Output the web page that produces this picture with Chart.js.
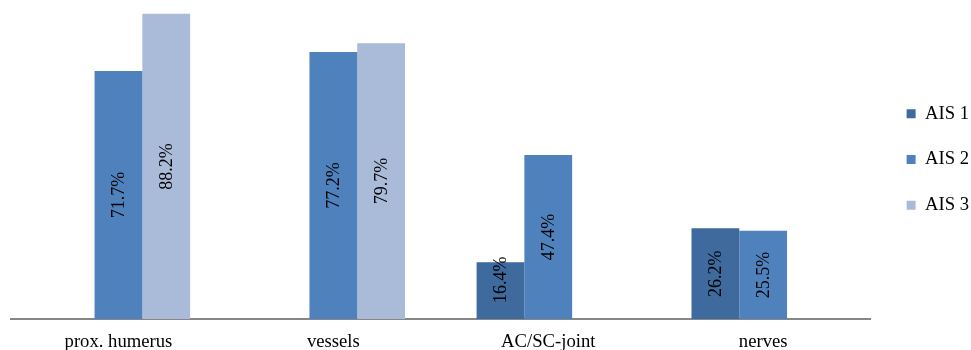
<!DOCTYPE html>
<html>
<head>
<meta charset="utf-8">
<script src="https://cdn.jsdelivr.net/npm/chart.js@4/dist/chart.umd.min.js"></script>
<style>
  html, body { margin: 0; padding: 0; background: #ffffff; }
  #wrap { width: 971px; height: 350px; }
</style>
</head>
<body>
<div id="wrap"><canvas id="c" width="971" height="350"></canvas></div>
<script>
// Injury sites and share of patients per AIS grade (percent)
const categories = ['prox. humerus', 'vessels', 'AC/SC-joint', 'nerves'];
const ais1 = [null, null, 16.4, 26.2];
const ais2 = [71.7, 77.2, 47.4, 25.5];
const ais3 = [88.2, 79.7, null, null];
const seriesNames = ['AIS 1', 'AIS 2', 'AIS 3'];
const seriesColors = ['#3e6a9d', '#4f81bd', '#aabad9'];

const FONT = 'Liberation Serif, Times New Roman, serif';

// Percent labels written vertically inside each bar
const barValueLabels = {
  id: 'barValueLabels',
  afterDatasetsDraw(chart) {
    const ctx = chart.ctx;
    ctx.save();
    ctx.font = '18px ' + FONT;
    ctx.fillStyle = '#000000';
    ctx.textAlign = 'center';
    ctx.textBaseline = 'middle';
    chart.data.datasets.forEach((ds, i) => {
      const meta = chart.getDatasetMeta(i);
      if (meta.hidden) return;
      meta.data.forEach((bar, j) => {
        const v = ds.data[j];
        if (v === null || v === undefined) return;
        const text = v.toFixed(1) + '%';
        const w = ctx.measureText(text).width;
        // keep short bars' labels clear of the baseline
        const cy = Math.min((bar.y + bar.base) / 2, bar.base - 16 - w / 2);
        ctx.save();
        ctx.translate(bar.x, cy);
        ctx.rotate(-Math.PI / 2);
        ctx.fillText(text, 0, 1);
        ctx.restore();
      });
    });
    ctx.restore();
  }
};

// Moves the legend column a little further right of the plot
const legendGap = {
  id: 'legendGap',
  afterLayout(chart) {
    const l = chart.legend;
    if (l) { l.left += 9; l.right += 9; }
  }
};

new Chart(document.getElementById('c'), {
  type: 'bar',
  data: {
    labels: categories,
    datasets: [
      { label: seriesNames[0], data: ais1, backgroundColor: seriesColors[0] },
      { label: seriesNames[1], data: ais2, backgroundColor: seriesColors[1] },
      { label: seriesNames[2], data: ais3, backgroundColor: seriesColors[2] }
    ]
  },
  options: {
    responsive: false,
    animation: false,
    devicePixelRatio: 1,
    layout: { padding: { left: 11, right: 1, top: 0, bottom: 0 } },
    datasets: {
      bar: { categoryPercentage: 0.667, barPercentage: 1.0, borderWidth: 0 }
    },
    scales: {
      x: {
        grid: { display: false, drawTicks: false },
        border: { display: true, color: '#878787', width: 2 },
        ticks: { color: '#000000', font: { family: FONT, size: 18.67 }, padding: 12 },
        afterFit(scale) { scale.height = 31; }
      },
      y: {
        display: false,
        min: 0,
        max: 92.2
      }
    },
    plugins: {
      legend: {
        position: 'right',
        fullSize: false,
        labels: {
          boxWidth: 9,
          boxHeight: 9,
          padding: 27,
          color: '#000000',
          font: { family: FONT, size: 18.67 }
        }
      },
      tooltip: { enabled: false }
    }
  },
  plugins: [barValueLabels, legendGap]
});
</script>
</body>
</html>
